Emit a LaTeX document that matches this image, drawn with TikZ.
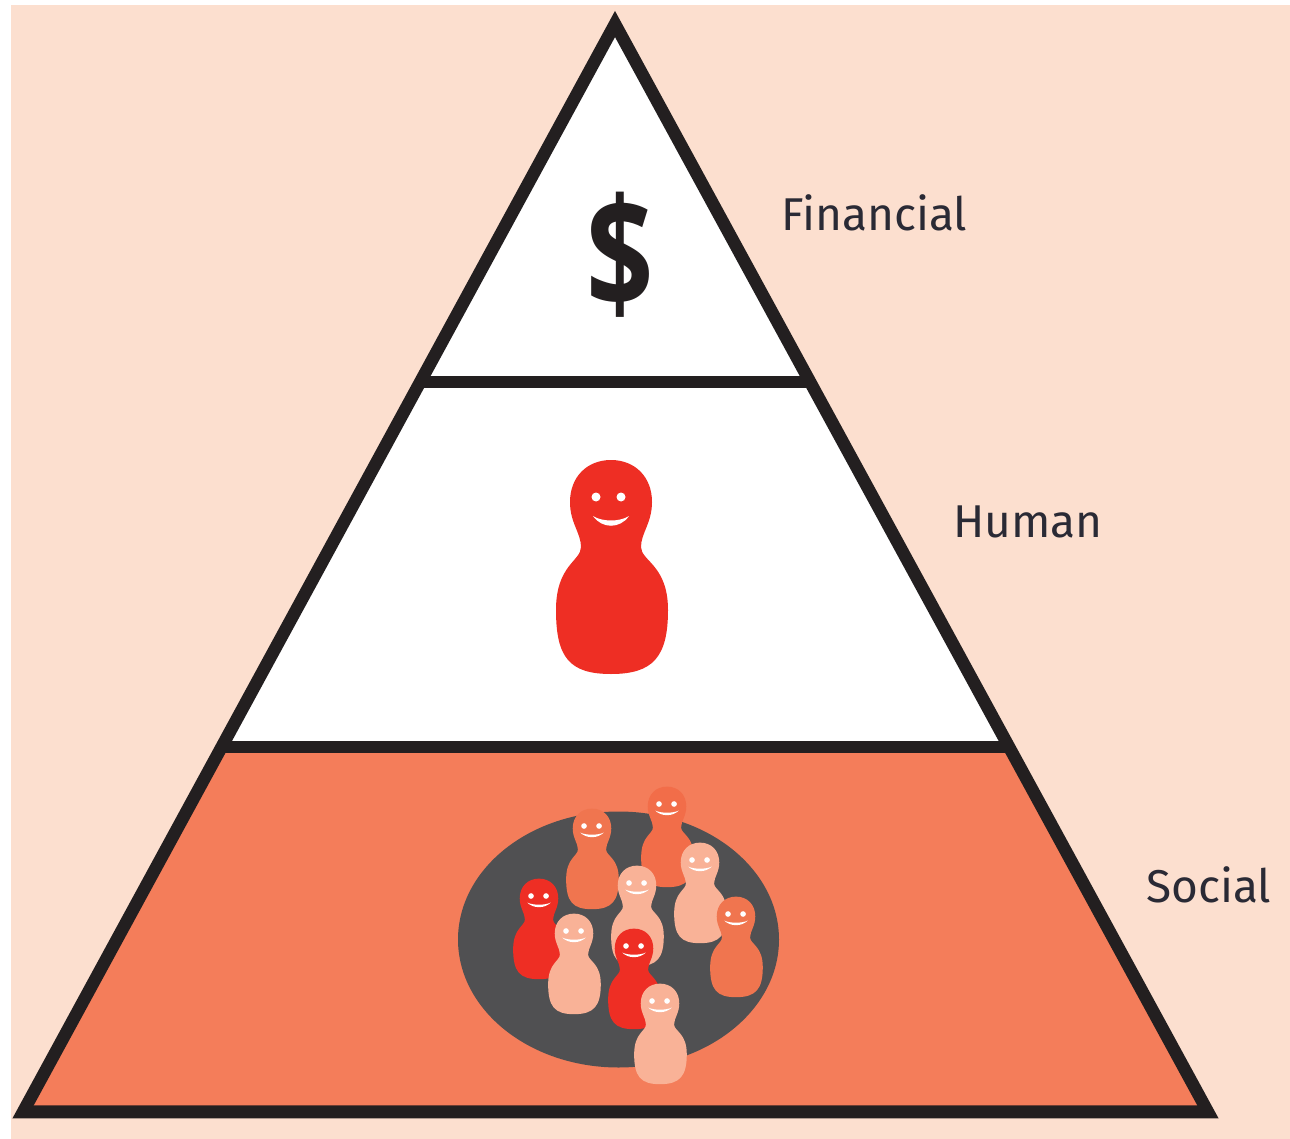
\documentclass[tikz,border=0pt]{standalone}
\usepackage{fontspec}
\usepackage{graphicx}
\setmainfont{Fira Sans}
\newfontfamily\dollarfont{Open Sans}
\definecolor{bgpeach}{HTML}{FCDFCF}
\definecolor{inkblack}{HTML}{231F20}
\definecolor{socialfill}{HTML}{F47D5A}
\definecolor{strip}{HTML}{7A4336}
\definecolor{discgrey}{HTML}{505052}
\definecolor{pawnred}{HTML}{EE2E24}
\definecolor{pawnlight}{HTML}{F9B297}
\definecolor{pawnorange}{HTML}{F0754F}
\definecolor{pawndeep}{HTML}{F26D49}
\definecolor{textink}{HTML}{2A2A35}
\tikzset{
  edge/.style={draw=inkblack,line width=12.5pt,line join=miter,miter limit=10},
  band/.style={draw=inkblack,line width=12pt},
  label/.style={anchor=base west,inner sep=0pt,text=textink,font=\fontsize{46}{46}\selectfont},
}
% #1 colour, #2 left eye x, #3 right eye x, #4 eye radius, #5 smile half width, #6 smile y
\newcommand{\pawnfig}[6]{%
  \fill[#1] (0,-37)
    .. controls (24,-37) and (41,-20) .. (41,5)
    .. controls (41,26) and (30,36) .. (30,50)
    .. controls (30,64) and (57,68) .. (57,113)
    .. controls (57,160) and (42,177) .. (0,177)
    .. controls (-42,177) and (-55,160) .. (-55,113)
    .. controls (-55,68) and (-30,64) .. (-30,50)
    .. controls (-30,36) and (-41,26) .. (-41,5)
    .. controls (-41,-20) and (-24,-37) .. (0,-37) -- cycle;
  \fill[white] (#2,0) circle (#4);
  \fill[white] (#3,0) circle (#4);
  \fill[white] (-#5,#6) .. controls (-#5*0.5,#6+13) and (#5*0.5,#6+13) .. (#5,#6)
    .. controls (#5*0.5,#6+6) and (-#5*0.5,#6+6) .. (-#5,#6) -- cycle;
}
\begin{document}
\begin{tikzpicture}[x=1pt,y=-1pt]
\useasboundingbox (0,0) rectangle (1290,1139);
\fill[bgpeach] (11,5) rectangle (1290,1139);
% pyramid fills
\fill[white] (615,24) -- (1009,746) -- (221,746) -- cycle;
\fill[socialfill] (221,746) -- (1009,746) -- (1208,1111) -- (22,1111) -- cycle;
\fill[strip] (34,1105) rectangle (1200,1111);
% pyramid outline
\coordinate (apex) at (615,24);
\coordinate (bl) at (23,1112);
\coordinate (br) at (1208,1112);
\coordinate (h1l) at (420,382);
\coordinate (h1r) at (810,382);
\coordinate (h2l) at (221,747);
\coordinate (h2r) at (1009,747);
\draw[band] (h1l) -- (h1r);
\draw[band] (h2l) -- (h2r);
\draw[edge] (apex) -- (br) -- (bl) -- cycle;
% dollar
\node[inner sep=0pt,text=inkblack,font=\dollarfont\fontsize{118}{118}\selectfont\bfseries] (dollar) at (620,255) {\scalebox{1}[1.3]{\$}};
% big pawn
\begin{scope}[shift={(611,497)}]
  \pawnfig{pawnred}{-15}{10}{4.5}{18}{19}
\end{scope}
% disc
\fill[discgrey] (618.5,939.5) ellipse [x radius=160.5,y radius=128];
% small pawns
\foreach \px/\py/\pc in {592/826/pawnorange,667/804/pawndeep,700/860/pawnlight,736/914/pawnorange,539/896/pawnred,574/931/pawnlight,637/883/pawnlight,634/946/pawnred,660/1001/pawnlight}{
  \begin{scope}[shift={(\px,\py)},scale=0.47]
    \pawnfig{\pc}{-17}{15}{6}{25}{14}
  \end{scope}
}
% labels
\node[label] (financial) at (781,231) {Financial};
\node[label] (human) at (953,537) {Human};
\node[label] (social) at (1146,902) {Social};
\end{tikzpicture}
\end{document}
